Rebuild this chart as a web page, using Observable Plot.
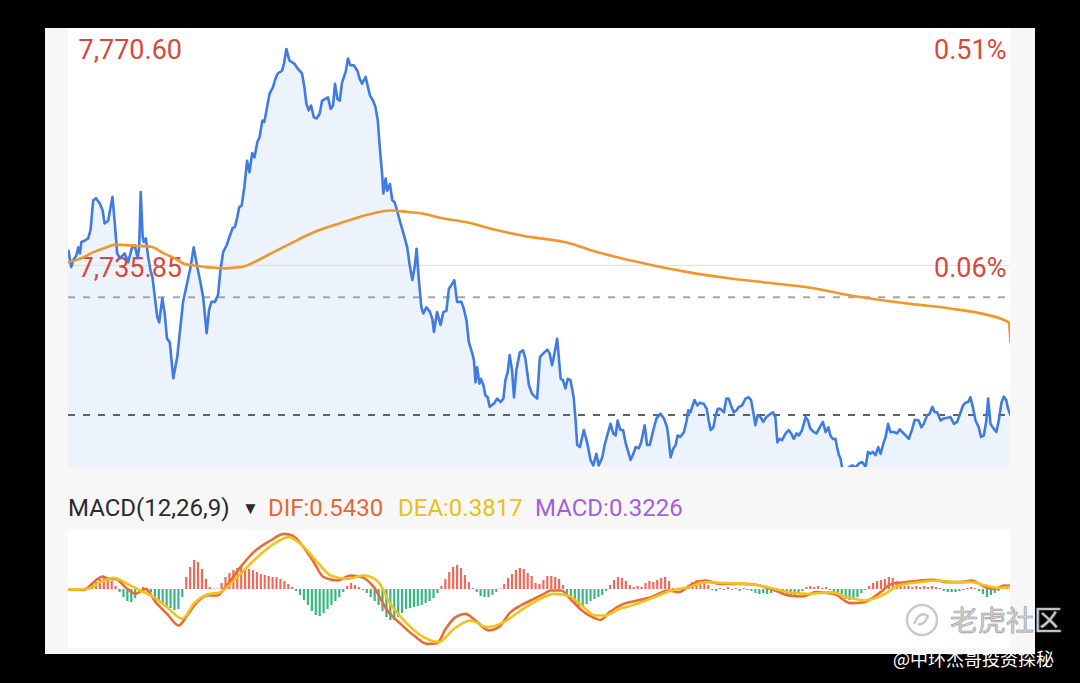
<!DOCTYPE html>
<html>
<head>
<meta charset="utf-8">
<script src="https://cdn.jsdelivr.net/npm/d3@7"></script>
<script src="https://cdn.jsdelivr.net/npm/@observablehq/plot@0.6"></script>
<style>
  body { margin: 0; background: #000; font-family: Roboto, "Noto Sans", sans-serif; }
  #frame { position: relative; width: 1080px; height: 683px; background: #000; overflow: hidden; }
  #panel { position: absolute; left: 45px; top: 28px; width: 990px; height: 626px; background: #f7f7f7; }
  #main { position: absolute; left: 68px; top: 28px; }
  #macd { position: absolute; left: 68px; top: 530px; }
  #head { position: absolute; left: 68px; top: 494px; height: 28px; width: 900px; font-size: 24px; line-height: 28px; }
  #head span { position: absolute; top: 0; white-space: nowrap; }
  #wm { position: absolute; left: 903px; top: 600px; font-family: "Noto Sans CJK SC"; }
  #credit { position: absolute; left: 893px; top: 645px; font-family: "Noto Sans CJK SC"; font-size: 18px; color: #fff; white-space: nowrap; }
</style>
</head>
<body>
<div id="frame">
  <div id="panel"></div>
  <div id="main"></div>
  <div id="head"></div>
  <div id="macd"></div>
  <div id="wm"></div>
  <div id="credit"></div>
</div>
<script>
// intraday price, [minute since open, price]
const price = [
  [0,7738.0],[0.7,7735.6],[1.2,7736.6],[2.0,7737.3],[2.5,7738.5],[2.9,7737.6],[3.3,7739.3],[4.2,7739.5],[5.0,7739.8],[5.6,7741.0],
  [6.3,7745.4],[7.0,7745.7],[8.0,7744.9],[8.7,7743.9],[9.2,7742.0],[10.1,7742.4],[11.2,7745.9],[11.8,7742.0],[12.4,7737.6],[13.1,7736.9],
  [14.3,7737.6],[15.2,7736.3],[16.1,7738.3],[16.9,7738.8],[17.6,7736.9],[18.0,7738.5],[18.4,7746.6],[18.9,7740.0],[19.2,7739.3],[19.7,7739.8],
  [20.3,7737.1],[20.9,7735.1],[21.4,7734.1],[22.0,7731.2],[22.6,7728.3],[23.1,7727.5],[23.9,7731.0],[24.5,7728.8],[25.1,7725.1],[25.8,7724.6],
  [26.7,7719.3],[27.7,7722.4],[28.5,7726.8],[29.2,7730.5],[30.2,7733.2],[31.1,7735.6],[31.9,7738.5],[32.8,7735.6],[33.5,7733.7],[34.3,7731.2],
  [35.2,7725.9],[35.8,7729.3],[36.4,7730.5],[37.3,7730.5],[38.1,7731.5],[38.7,7735.1],[39.4,7737.8],[40.3,7738.8],[41.1,7740.2],[41.8,7741.3],
  [42.4,7741.5],[43.0,7742.9],[43.5,7744.4],[44.1,7744.6],[44.8,7747.3],[45.5,7751.2],[46.1,7749.5],[46.8,7752.3],[47.4,7751.7],[48.1,7753.9],
  [48.7,7754.7],[49.4,7757.1],[49.9,7756.9],[50.6,7759.1],[51.2,7761.0],[52.1,7762.0],[52.7,7763.2],[53.3,7764.0],[54.4,7764.4],[54.9,7765.4],
  [55.5,7767.6],[56.3,7765.9],[57.6,7765.4],[58.4,7764.7],[59.5,7764.0],[60.1,7762.0],[60.6,7759.6],[61.2,7758.6],[61.8,7759.3],[62.5,7757.6],
  [63.2,7757.4],[64.0,7758.1],[64.6,7760.0],[65.5,7760.3],[66.1,7760.5],[66.8,7758.8],[67.4,7759.3],[67.9,7762.5],[68.5,7760.3],[69.1,7760.0],
  [69.7,7762.7],[70.6,7764.2],[71.2,7766.2],[71.8,7765.2],[72.7,7765.2],[73.6,7764.4],[74.2,7763.2],[74.8,7762.5],[75.7,7763.5],[76.3,7762.0],
  [76.8,7760.8],[77.6,7760.0],[78.2,7759.1],[78.8,7757.1],[79.3,7753.2],[79.9,7749.3],[80.2,7746.4],[80.8,7748.6],[81.2,7746.8],[81.9,7747.8],
  [82.5,7745.4],[83.1,7745.1],[83.7,7743.9],[84.6,7742.0],[85.6,7740.0],[86.3,7738.5],[87.0,7735.6],[87.6,7733.7],[88.2,7735.6],[88.7,7738.3],
  [89.2,7734.1],[89.9,7729.7],[90.4,7728.8],[91.2,7729.7],[92.1,7729.0],[92.7,7728.0],[93.1,7726.1],[93.9,7729.0],[94.8,7727.1],[95.5,7729.0],
  [96.3,7729.2],[96.9,7732.4],[97.8,7733.2],[98.3,7733.7],[99.0,7730.5],[100.1,7730.5],[100.7,7729.5],[101.4,7727.8],[102.0,7724.6],[102.9,7722.9],
  [103.3,7721.9],[103.7,7718.7],[104.1,7720.9],[104.7,7718.5],[105.1,7719.2],[105.7,7718.3],[106.2,7716.8],[106.8,7716.5],[107.3,7715.1],[108.4,7715.6],
  [109.2,7716.3],[110.1,7715.8],[110.8,7716.3],[111.3,7719.0],[111.9,7720.2],[112.4,7722.7],[113.0,7720.5],[113.5,7716.5],[114.1,7720.5],[115.0,7723.1],
  [115.8,7723.4],[116.4,7722.2],[117.3,7718.3],[118.1,7717.0],[119.4,7716.3],[120.1,7722.4],[120.9,7722.9],[122.0,7723.5],[122.6,7722.9],[123.2,7721.2],
  [123.8,7722.9],[124.5,7725.1],[125.4,7719.2],[126.0,7719.0],[126.6,7717.8],[127.2,7719.2],[127.9,7719.0],[128.7,7716.5],[129.2,7713.1],[129.6,7709.5],
  [130.3,7709.2],[131.3,7711.7],[132.2,7709.7],[133.0,7707.3],[133.7,7706.5],[134.5,7708.2],[135.1,7706.5],[136.0,7707.7],[136.6,7709.5],[137.4,7711.2],
  [138.1,7712.6],[138.8,7711.2],[139.4,7710.9],[139.9,7713.1],[140.6,7711.7],[141.3,7711.7],[141.9,7709.9],[142.5,7708.7],[143.2,7707.3],[143.9,7708.2],
  [144.5,7709.2],[145.3,7709.0],[145.9,7709.9],[146.8,7712.4],[147.4,7709.5],[148.1,7709.5],[149.0,7711.7],[149.8,7713.4],[150.8,7714.1],[151.7,7713.4],
  [152.5,7712.1],[152.9,7710.4],[153.4,7707.7],[154.1,7709.0],[154.7,7709.5],[155.2,7710.9],[155.9,7710.7],[156.8,7711.4],[157.5,7713.1],[157.9,7714.6],
  [158.5,7714.3],[158.9,7715.1],[159.5,7716.1],[160.2,7715.3],[160.8,7715.7],[161.9,7715.5],[162.6,7714.8],[163.1,7713.1],[163.6,7711.7],[164.3,7712.1],
  [164.8,7713.6],[165.4,7714.8],[166.1,7714.8],[167.0,7714.3],[167.6,7716.3],[168.2,7716.3],[168.9,7715.1],[169.5,7714.3],[170.2,7714.6],[170.8,7715.1],
  [171.6,7715.3],[172.5,7716.3],[173.3,7716.5],[173.9,7716.1],[174.6,7713.9],[175.0,7712.4],[175.6,7713.9],[176.3,7713.6],[177.0,7712.9],[177.8,7713.6],
  [178.9,7714.1],[179.5,7714.3],[180.1,7713.6],[180.6,7709.9],[181.2,7710.4],[181.8,7710.2],[182.7,7711.2],[183.5,7711.7],[184.1,7711.2],[184.8,7710.4],
  [185.5,7711.2],[186.1,7710.9],[186.9,7711.7],[187.8,7713.6],[188.4,7713.1],[189.0,7711.9],[189.9,7711.4],[190.6,7711.2],[191.2,7711.9],[192.2,7712.9],
  [192.9,7711.4],[193.6,7712.1],[194.1,7710.9],[194.7,7710.4],[195.4,7710.4],[195.8,7709.2],[196.3,7708.0],[196.7,7707.5],[197.1,7706.1],[198.0,7705.8],
  [198.8,7706.2],[199.7,7706.5],[200.5,7706.2],[201.4,7706.8],[202.2,7707.0],[203.1,7706.3],[203.7,7708.5],[204.3,7708.2],[204.9,7708.5],[205.6,7708.0],
  [206.3,7709.2],[206.9,7708.2],[207.6,7709.7],[208.2,7710.7],[208.8,7712.6],[209.4,7711.4],[210.3,7711.4],[211.1,7711.2],[211.8,7711.8],[212.4,7711.4],
  [213.3,7710.9],[214.1,7710.4],[215.0,7711.9],[215.6,7713.2],[216.6,7713.1],[217.3,7712.1],[217.9,7712.6],[218.8,7713.9],[219.4,7714.1],[220.1,7715.1],
  [220.7,7714.3],[221.3,7714.3],[222.2,7713.1],[223.0,7713.4],[223.9,7713.5],[224.7,7713.6],[225.6,7712.6],[226.4,7712.9],[227.3,7714.3],[227.9,7715.3],
  [228.5,7715.7],[229.2,7715.8],[229.8,7716.5],[230.4,7715.1],[231.1,7713.1],[231.9,7712.1],[232.5,7710.7],[233.2,7710.9],[233.8,7712.9],[234.3,7716.3],
  [234.9,7712.6],[235.7,7711.9],[236.4,7711.4],[237.0,7713.1],[237.7,7715.7],[238.3,7716.6],[238.9,7716.1],[239.4,7714.8],[240,7713.9]
];

// average price line
const avgPrice = [
  [0,7736.3],[2.9,7736.8],[6.4,7737.8],[9.2,7738.4],[12.0,7738.9],[17.5,7738.7],[20.9,7738.6],[24.3,7737.6],[27.3,7736.8],[29.4,7736.1],
  [32.4,7735.8],[34.9,7735.6],[37.5,7735.5],[39.6,7735.4],[42.0,7735.5],[44.7,7735.7],[47.6,7736.4],[50.6,7737.3],[54.0,7738.3],[57.4,7739.3],
  [62.5,7740.7],[70.1,7742.2],[76.9,7743.4],[82.0,7743.9],[86.3,7743.7],[89.8,7743.5],[95.0,7742.8],[101.2,7742.2],[108.5,7741.1],[115.8,7740.2],
  [128.3,7739.0],[133.5,7738.0],[138.7,7737.2],[147.0,7736.1],[157.4,7734.9],[167.8,7734.0],[178.2,7733.3],[188.6,7732.6],[196.9,7731.7],[204.2,7731.0],
  [214.6,7730.2],[225.0,7729.5],[233.3,7728.7],[238.5,7727.8],[239.5,7727.5],[240,7724.6]
];

const highLabel = 7770.60;   // top of the price axis
const midLabel = 7735.85;    // middle guide
const prevClose = 7731.17;   // previous close (0%)
const lowEdge = 7706.2;      // bottom of the visible window

// MACD(12,26,9)
const macdHist = [
  0,0,0,0.08,0.15,0.3,0.6,1.05,1.5,1.8,1.65,1.2,0.45,-0.45,-1.2,-1.8,-1.95,-1.35,-0.3,0.3,
  0.15,-0.45,-1.2,-1.8,-2.25,-2.55,-2.85,-3.15,-3.0,-1.2,1.8,3.3,4.35,4.05,3.0,1.5,0.3,0.08,0.08,0.9,
  1.8,2.4,2.85,3.15,3.3,3.15,3.0,2.85,2.55,2.25,2.1,1.95,1.8,1.8,1.5,1.2,0.75,0.3,-0.3,-0.9,
  -1.65,-2.4,-3.3,-3.9,-4.05,-3.6,-3.0,-2.4,-1.8,-1.2,-0.45,0.45,0.9,0.6,0.3,-0.15,-0.6,-1.2,-1.8,-2.4,
  -3.3,-4.2,-4.65,-4.65,-4.2,-3.6,-3.0,-2.85,-2.7,-2.55,-2.4,-2.1,-1.8,-1.35,-0.6,0.45,1.5,2.55,3.3,3.6,
  3.15,2.1,1.05,0.15,-0.45,-1.05,-1.2,-1.2,-0.9,-0.45,0.08,0.75,1.65,2.25,2.85,3.15,3.0,2.4,1.95,0.9,
  0.75,1.35,1.95,1.95,1.8,1.5,0.6,-0.75,-1.5,-2.1,-2.55,-2.7,-2.25,-1.8,-1.5,-1.2,-0.9,-0.3,0.6,1.35,
  1.8,1.65,1.2,0.6,0.3,0.45,0.3,0.9,1.2,1.05,1.35,1.65,1.8,1.2,0.15,0.08,0.08,0.15,0.6,1.05,
  1.35,1.35,1.2,0.6,-0.15,-0.3,0.15,-0.15,0.3,-0.15,0.15,-0.3,0.15,-0.15,-0.3,-0.6,-0.75,-0.6,-0.75,-0.6,
  -0.45,-0.6,-0.9,-1.05,-1.2,-1.05,-0.75,-0.3,0.3,0.45,0.3,0.45,0.15,0.3,-0.15,-0.45,-0.75,-1.2,-1.5,-1.65,
  -1.5,-1.2,-0.6,-0.15,0.45,0.9,1.2,1.35,1.5,1.8,1.65,1.2,0.6,0.45,0.45,0.3,0.45,0.3,0.45,0.3,
  0.45,0.3,0.15,-0.3,-0.45,-0.45,-0.45,-0.3,-0.15,0.15,0.3,0.15,-0.3,-0.75,-1.2,-0.9,-0.6,-0.3,0.15,0.3,
  0.32
];

const dif = [
  [0,0],[3.9,-0.05],[6.9,1.35],[8.6,1.95],[10.3,1.6],[12.0,1.6],[14.5,0.35],[17.1,-0.65],[19.6,0.1],[22.2,-1.9],
  [25.1,-3.65],[28.1,-5.4],[30.2,-3.9],[32.8,-1.9],[35.3,-0.9],[37.9,-0.9],[40.0,0.35],[43.8,3.35],[47.2,5.6],[51.5,7.35],
  [54.9,8.35],[57.0,8.1],[59.9,6.35],[62.5,4.1],[65.0,1.85],[68.5,1.35],[71.8,2.1],[74.8,1.85],[77.8,0.35],[81.2,-3.15],
  [84.6,-5.15],[88.0,-6.9],[91.4,-8.15],[93.9,-8.05],[96.1,-5.9],[98.6,-4.15],[101.1,-3.65],[103.7,-4.65],[107.1,-6.15],[109.6,-5.65],
  [112.6,-3.4],[115.2,-2.4],[117.7,-1.65],[121.1,-0.65],[122.9,-0.15],[125.5,-0.15],[128.2,-1.65],[130.8,-3.15],[133.4,-4.15],[135.6,-4.55],
  [137.8,-3.4],[141.4,-2.15],[144.9,-1.65],[148.4,-1.15],[152.8,-0.15],[155.4,-0.4],[158.9,0.85],[162.4,1.35],[165.9,0.85],[171.2,0.85],
  [174.7,0.75],[180.0,-0.15],[183.5,-0.9],[187.0,-1.05],[190.5,-0.4],[194.9,-0.65],[199.3,-2.05],[202.8,-1.9],[206.3,-0.65],[209.9,0.85],
  [213.4,1.1],[216.9,1.35],[220.4,1.45],[223.9,1.1],[227.4,1.1],[230.1,1.35],[233.6,0.35],[236.2,0.1],[238.4,0.6],[240,0.543]
];

const dea = [
  [0,0],[4.8,0.1],[8.2,1.1],[11.5,1.75],[15.0,0.85],[18.3,-0.15],[21.7,-1.15],[25.1,-2.65],[29.0,-4.4],[31.9,-2.15],
  [35.3,-0.75],[38.7,-0.4],[43.0,1.85],[47.2,4.35],[52.3,6.85],[56.1,7.85],[59.1,6.85],[63.4,4.1],[66.8,2.1],[71.0,1.6],
  [75.2,2.1],[78.6,1.35],[82.0,-2.15],[86.3,-5.15],[90.5,-7.15],[94.3,-7.9],[98.2,-5.9],[102.4,-4.65],[106.7,-5.65],[110.9,-4.9],
  [115.2,-3.15],[119.4,-1.65],[123.8,-0.65],[127.3,-0.9],[130.8,-2.4],[134.3,-3.9],[136.5,-3.9],[140.5,-2.9],[144.9,-2.15],[149.2,-1.15],
  [153.6,-0.15],[158.0,0.35],[162.4,1.1],[167.7,0.95],[173.0,0.85],[178.2,0.35],[183.5,-0.4],[188.8,-0.65],[194.1,-0.4],[198.4,-1.15],
  [202.8,-1.65],[207.2,-0.9],[211.6,0.6],[216.9,1.1],[221.3,1.35],[225.7,1.1],[230.1,1.1],[233.6,0.6],[237.1,0.25],[240,0.382]
];

const headDIF = 0.5430, headDEA = 0.3817, headMACD = 0.3226;

const red = "#d6493c";
const lastPrice = price[price.length - 1][1];
const pct = v => ((v / prevClose - 1) * 100).toFixed(2) + "%";

const mainPlot = Plot.plot({
  width: 942,
  height: 439,
  margin: 0,
  x: { domain: [0, 240], axis: null },
  y: { domain: [lowEdge, highLabel], axis: null },
  style: { background: "#fff", fontFamily: "Roboto" },
  marks: [
    Plot.areaY(price, { x: d => d[0], y1: lowEdge, y2: d => d[1], fill: "#edf3fc", clip: true }),
    Plot.ruleY([midLabel], { stroke: "#dedede", strokeWidth: 1 }),
    Plot.ruleY([prevClose], { stroke: "#a3a7ad", strokeWidth: 2, strokeDasharray: "7,8" }),
    Plot.ruleY([lastPrice], { stroke: "#5e6166", strokeWidth: 2, strokeDasharray: "7,8" }),
    Plot.text([highLabel], { frameAnchor: "top-left", text: d => d3.format(",.2f")(d), dx: 10, dy: 11, lineAnchor: "top", textAnchor: "start", fill: red, fontSize: 27 }),
    Plot.text([highLabel], { frameAnchor: "top-right", text: pct, dx: -4, dy: 11, lineAnchor: "top", textAnchor: "end", fill: red, fontSize: 27 }),
    Plot.text([midLabel], { x: 0, y: d => d, text: d => d3.format(",.2f")(d), dx: 10, dy: 3, textAnchor: "start", fill: red, fontSize: 27 }),
    Plot.text([midLabel], { x: 240, y: d => d, text: pct, dx: -4, dy: 3, textAnchor: "end", fill: red, fontSize: 27 }),
    Plot.line(price, { x: d => d[0], y: d => d[1], stroke: "#3f7be1", strokeWidth: 2.6, clip: true }),
    Plot.line(avgPrice, { x: d => d[0], y: d => d[1], stroke: "#f0972b", strokeWidth: 2.6, curve: "monotone-x" })
  ]
});
document.querySelector("#main").append(mainPlot);

const hist = macdHist.map((v, i) => ({ t: i, v }));
const macdPlot = Plot.plot({
  width: 942,
  height: 118,
  margin: 0,
  x: { domain: [0, 240], axis: null },
  y: { domain: [-8.85, 8.85], axis: null },
  style: { background: "#fff" },
  marks: [
    Plot.ruleX(hist.filter(d => d.v >= 0), { x: "t", y1: 0, y2: "v", stroke: "#ee6b5b", strokeWidth: 2.2 }),
    Plot.ruleX(hist.filter(d => d.v < 0), { x: "t", y1: 0, y2: "v", stroke: "#38b683", strokeWidth: 2.2 }),
    Plot.line(dif, { x: d => d[0], y: d => d[1], stroke: "#e96c37", strokeWidth: 2.6, curve: "monotone-x" }),
    Plot.line(dea, { x: d => d[0], y: d => d[1], stroke: "#f2c21c", strokeWidth: 2.6, curve: "monotone-x" })
  ]
});
document.querySelector("#macd").append(macdPlot);

// indicator header
const head = document.querySelector("#head");
[
  { text: "MACD(12,26,9)", left: 0, color: "#2b2b2f" },
  { text: "▼", left: 174, color: "#2b2b2f", size: 17 },
  { text: "DIF:" + headDIF.toFixed(4), left: 200, color: "#e5673a" },
  { text: "DEA:" + headDEA.toFixed(4), left: 330, color: "#e6c21a" },
  { text: "MACD:" + headMACD.toFixed(4), left: 467, color: "#a65fd8" }
].forEach(h => {
  const s = document.createElement("span");
  s.textContent = h.text;
  s.style.left = h.left + "px";
  s.style.color = h.color;
  if (h.size) s.style.fontSize = h.size + "px";
  head.append(s);
});

// watermark
document.querySelector("#wm").innerHTML =
  '<svg width="160" height="40" style="overflow:visible">' +
  '<circle cx="19" cy="20" r="15" fill="none" stroke="#c9c9c9" stroke-width="2.5"/>' +
  '<path d="M11 24 q6 -14 14 -8 q-4 10 -10 8" fill="none" stroke="#c9c9c9" stroke-width="2.5"/>' +
  '<text x="47" y="31" font-size="28" fill="#d2d2d2" stroke="#9a9a9a" stroke-width="0.6" font-family="Noto Sans CJK SC">老虎社区</text>' +
  '</svg>';
document.querySelector("#credit").textContent = "@中环杰哥投资探秘";
</script>
</body>
</html>
